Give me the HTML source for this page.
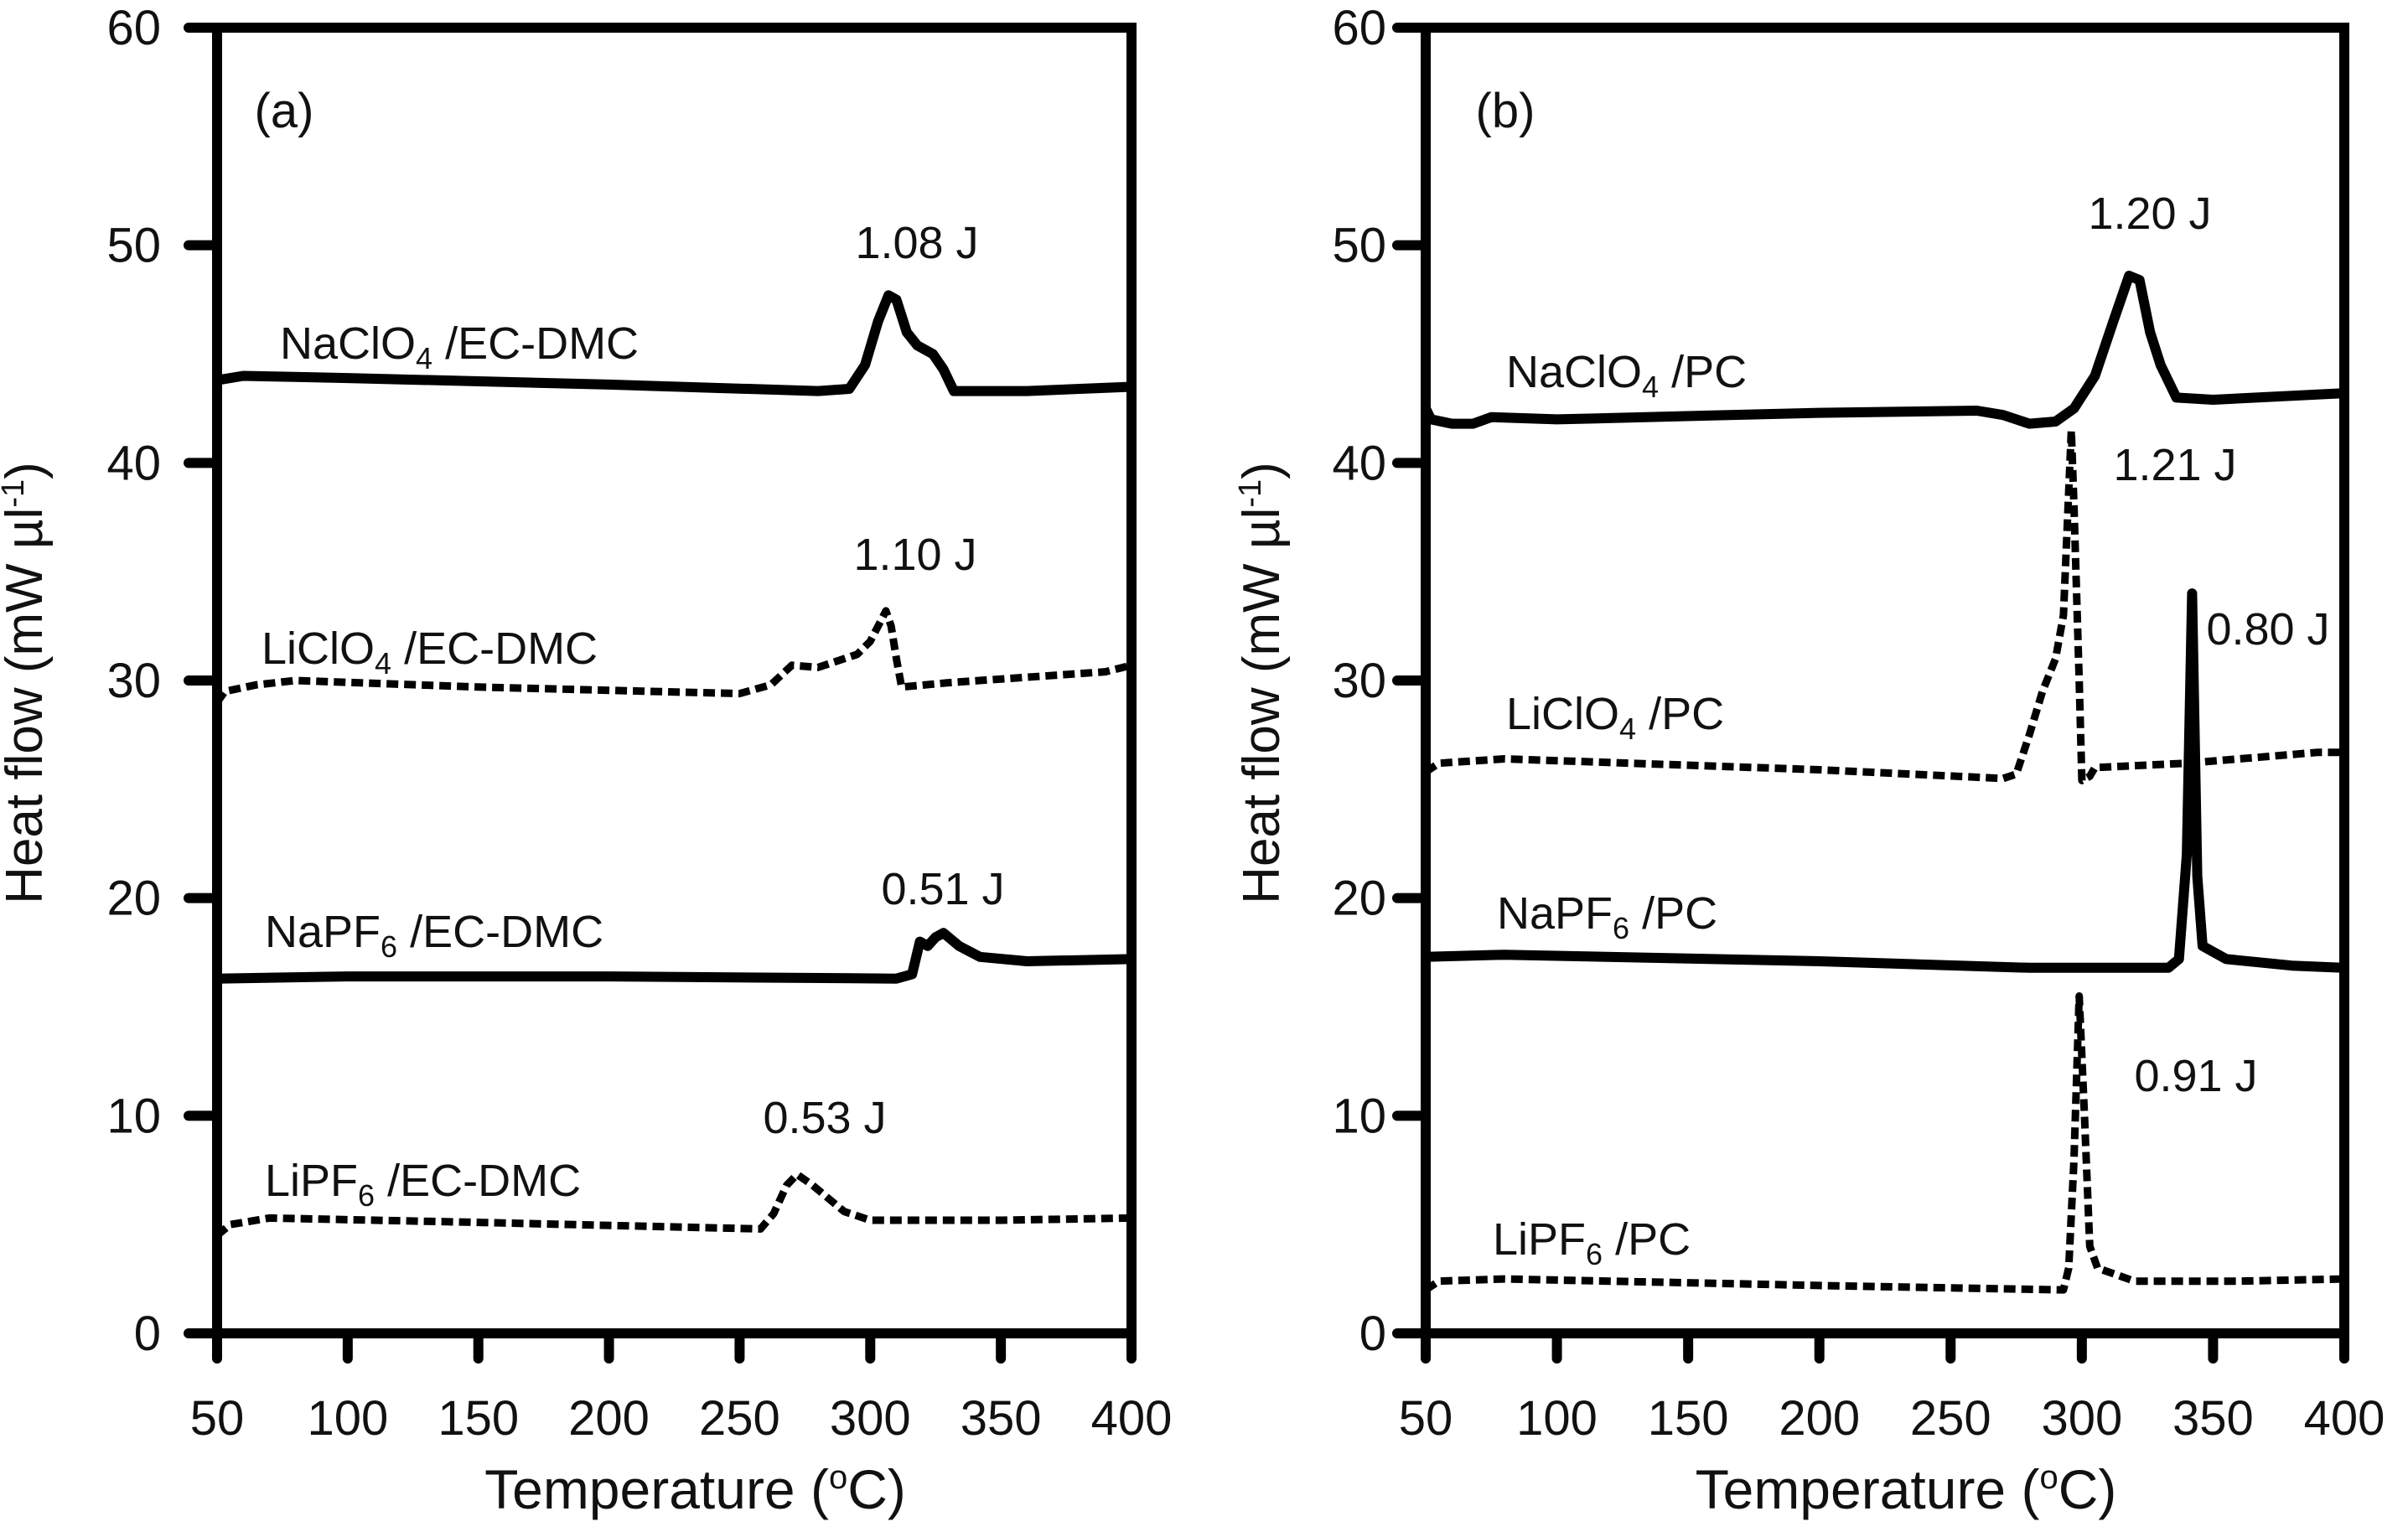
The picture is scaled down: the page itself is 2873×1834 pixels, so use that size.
<!DOCTYPE html>
<html><head><meta charset="utf-8"><style>
html,body{margin:0;padding:0;background:#fff;}
svg{display:block;font-family:"Liberation Sans",Arial,sans-serif;}
</style></head><body>
<svg id="chart" width="2873" height="1834" viewBox="0 0 2873 1834" xmlns="http://www.w3.org/2000/svg"></svg>
<script>
const xTicks=[50,100,150,200,250,300,350,400];
const yTicks=[0,10,20,30,40,50,60];
// Panel (a)
const aNaClO4=[[50,43.8],[60,44],[100,43.9],[200,43.6],[280,43.3],[292,43.4],[298,44.5],[303,46.5],[307,47.7],[310,47.5],[314,46],[318,45.4],[324,45],[328,44.3],[332,43.3],[360,43.3],[400,43.5]];
const aLiClO4=[[50,29],[53,29.5],[65,29.8],[80,30],[150,29.7],[250,29.4],[262,29.8],[270,30.7],[280,30.6],[295,31.2],[300,31.8],[306,33.2],[308,32.5],[310,31],[312,29.7],[330,29.9],[390,30.4],[400,30.7]];
const aNaPF6=[[50,16.3],[100,16.4],[200,16.4],[310,16.3],[316,16.5],[319,18],[322,17.8],[325,18.2],[328,18.4],[334,17.8],[342,17.3],[360,17.1],[400,17.2]];
const aLiPF6=[[50,4.5],[55,5],[70,5.3],[150,5.1],[258,4.8],[263,5.5],[268,6.8],[272,7.3],[278,6.8],[290,5.6],[300,5.2],[350,5.2],[400,5.3]];
// Panel (b)
const bNaClO4=[[50,42.5],[52,42],[60,41.8],[68,41.8],[75,42.1],[100,42],[200,42.3],[260,42.4],[270,42.2],[280,41.8],[290,41.9],[297,42.5],[305,44],[312,46.5],[318,48.6],[322,48.4],[326,46],[330,44.5],[336,43],[350,42.9],[400,43.2]];
const bLiClO4=[[50,25.8],[55,26.2],[80,26.4],[200,25.9],[270,25.5],[275,25.7],[280,27.5],[285,29.5],[290,31],[293,33],[296,41.5],[297,38],[299,30],[300,25.4],[303,25.6],[305,26],[340,26.2],[390,26.7],[400,26.7]];
const bNaPF6=[[50,17.3],[80,17.4],[200,17.1],[280,16.8],[333,16.8],[337,17.2],[340,22],[342,34],[344,21],[346,17.8],[355,17.2],[380,16.9],[400,16.8]];
const bLiPF6=[[50,2],[55,2.4],[80,2.5],[200,2.2],[293,2],[295,3],[297,8],[299,15.5],[301,10],[303,4],[306,3],[320,2.4],[360,2.4],[400,2.5]];

const NS="http://www.w3.org/2000/svg";
const svg=document.getElementById('chart');
function mk(tag,attrs,parent){const e=document.createElementNS(NS,tag);for(const k in attrs)e.setAttribute(k,attrs[k]);(parent||svg).appendChild(e);return e;}
const TOP=33,BOT=1591;
function yS(v){return BOT-(v/60)*(BOT-TOP);}
function panel(id,left,right,label,series,texts,ytitleX,ytickRight,labelX){
  const g=mk('g',{});
  
  
  const xS=v=>left+(v-50)/350*(right-left);
  const fr=mk('rect',{x:left,y:TOP,width:right-left,height:BOT-TOP,fill:'none',stroke:'#000','stroke-width':12},g);
  
  
  xTicks.forEach(t=>{
    const x=xS(t);
    const l=mk('line',{x1:x,x2:x,y1:BOT,y2:BOT+30,stroke:'#000','stroke-width':12,'stroke-linecap':'round'},g);
    
    
    const tx=mk('text',{x:x,y:1712,'font-size':58,'text-anchor':'middle',fill:'#111'},g);
    tx.textContent=t;
    
    
  });
  yTicks.forEach(t=>{
    const y=yS(t);
    const l=mk('line',{x1:left-34,x2:left,y1:y,y2:y,stroke:'#000','stroke-width':12,'stroke-linecap':'round'},g);
    
    
    const tx=mk('text',{x:ytickRight,y:y+20,'font-size':58,'text-anchor':'end',fill:'#111'},g);
    tx.textContent=t;
    
    
  });
  const xt=mk('text',{x:(left+right)/2+25,y:1800,'font-size':66,'text-anchor':'middle',fill:'#111'},g);
  xt.innerHTML='Temperature (<tspan font-size="40" dy="-24">o</tspan><tspan dy="24">C)</tspan>';
  
  
  const yt=mk('text',{x:0,y:0,'font-size':62,'text-anchor':'middle',fill:'#111',transform:`translate(${ytitleX},815) rotate(-90)`},g);
  yt.innerHTML='Heat flow (mW µl<tspan font-size="38" dy="-22">-1</tspan><tspan dy="22">)</tspan>';
  
  
  const pl=mk('text',{x:labelX,y:152,'font-size':58,'text-anchor':'middle',fill:'#111'},g);
  pl.textContent=label;
  
  
  series.forEach(s=>{
    const d=s.data.map((p,i)=>(i?'L':'M')+xS(p[0]).toFixed(1)+' '+yS(p[1]).toFixed(1)).join(' ');
    const a={d:d,fill:'none',stroke:'#000','stroke-width':s.dash?9:12,'stroke-linejoin':'round'};
    if(s.dash)a['stroke-dasharray']='14 7';
    const p=mk('path',a,g);
    
    
  });
  texts.forEach(t=>{
    const tx=mk('text',{x:t[0],y:t[1],'font-size':54,'text-anchor':t[3]||'start',fill:'#111'},g);
    tx.innerHTML=t[2];
    
    
  });
}
const sub=s=>`<tspan font-size="36" dy="12">${s}</tspan><tspan dy="-12"> </tspan>`;
panel('a',259,1350,'(a)',[
  {data:aNaClO4,dash:false,name:'line-naclo4-ec-dmc'},
  {data:aLiClO4,dash:true,name:'line-liclo4-ec-dmc'},
  {data:aNaPF6,dash:false,name:'line-napf6-ec-dmc'},
  {data:aLiPF6,dash:true,name:'line-lipf6-ec-dmc'}],
  [[334,428,'NaClO'+sub('4')+'/EC-DMC','start','label-naclo4-ec-dmc'],
   [1094,308,'1.08 J','middle','value-1-08'],
   [312,792,'LiClO'+sub('4')+'/EC-DMC','start','label-liclo4-ec-dmc'],
   [1092,680,'1.10 J','middle','value-1-10'],
   [316,1130,'NaPF'+sub('6')+'/EC-DMC','start','label-napf6-ec-dmc'],
   [1125,1079,'0.51 J','middle','value-0-51'],
   [316,1427,'LiPF'+sub('6')+'/EC-DMC','start','label-lipf6-ec-dmc'],
   [984,1352,'0.53 J','middle','value-0-53']],
  50,192,339);
panel('b',1701,2797,'(b)',[
  {data:bNaClO4,dash:false,name:'line-naclo4-pc'},
  {data:bLiClO4,dash:true,name:'line-liclo4-pc'},
  {data:bNaPF6,dash:false,name:'line-napf6-pc'},
  {data:bLiPF6,dash:true,name:'line-lipf6-pc'}],
  [[1797,462,'NaClO'+sub('4')+'/PC','start','label-naclo4-pc'],
   [2565,273,'1.20 J','middle','value-1-20'],
   [2595,573,'1.21 J','middle','value-1-21'],
   [2706,769,'0.80 J','middle','value-0-80'],
   [1797,870,'LiClO'+sub('4')+'/PC','start','label-liclo4-pc'],
   [1786,1108,'NaPF'+sub('6')+'/PC','start','label-napf6-pc'],
   [1781,1497,'LiPF'+sub('6')+'/PC','start','label-lipf6-pc'],
   [2620,1302,'0.91 J','middle','value-0-91']],
  1526,1654,1796);
</script>
</body></html>
